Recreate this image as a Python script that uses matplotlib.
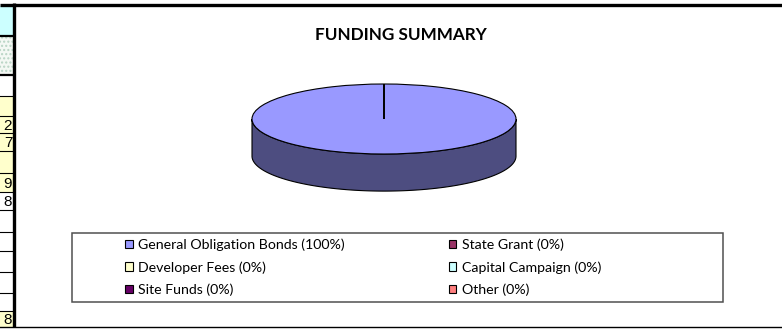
"""
Funding summary: flat 3-D pie with a two-column legend, as pasted from a worksheet.
"""

import matplotlib.pyplot as plt
import numpy as np
from matplotlib.colors import to_rgb
from matplotlib.patches import Patch, Rectangle

# Chart data
sources = [
    "General Obligation Bonds",
    "State Grant",
    "Developer Fees",
    "Capital Campaign",
    "Site Funds",
    "Other",
]
amounts = [100, 0, 0, 0, 0, 0]
colors = ["#9999FF", "#993366", "#FFFFCC", "#CCFFFF", "#660066", "#FF8080"]

# Worksheet cells that peek in at the left edge
cell_texts = ["", "", "", "", "2", "7", "", "9", "8", "", "", "", "", "", "8"]
cell_kinds = ["head", "dots", "white", "yellow", "yellow", "yellow", "yellow",
              "yellow", "white", "white", "white", "white", "white", "white",
              "yellow"]

W, H = 782, 331
FONT = ["Lato", "DejaVu Sans"]


def darker(c, f=0.5):
    r, g, b = to_rgb(c)
    return (r * f, g * f, b * f)


def draw_sheet(ax):
    """Worksheet strip, chart frame lines and legend box, in pixel coords."""
    edges = [6, 36, 75, 96, 116, 133, 151, 173, 192, 210, 232, 251, 272,
             293, 311, 327]
    fills = {"head": "#CCFFFF", "dots": "#F4F8F4", "white": "white",
             "yellow": "#FFFFCC"}
    for i, kind in enumerate(cell_kinds):
        y0, y1 = edges[i], edges[i + 1]
        rect = Rectangle((0, y0), 13, y1 - y0, facecolor=fills[kind],
                         edgecolor="none")
        if kind == "dots":
            rect.set_hatch("....")
            rect.set_edgecolor("#B8D4C4")
            rect.set_linewidth(0)
        ax.add_patch(rect)
        if cell_texts[i]:
            ax.text(12.2, (y0 + y1) / 2 + 1, cell_texts[i], ha="right",
                    va="center", fontsize=11, family="Liberation Sans")
    for i, y in enumerate(edges[1:-1], start=1):
        lw = 1.6 if i in (1, 2) else 0.8
        ax.plot([0, 13], [y, y], color="black", lw=lw)

    # chart area border
    ax.plot([0, W], [4.5, 4.5], color="black", lw=2.4, solid_capstyle="butt")
    ax.plot([13.5, 13.5], [3, 327], color="black", lw=2.4,
            solid_capstyle="butt", zorder=5)
    ax.plot([0, W], [327, 327], color="black", lw=1.0)

    # legend frame
    ax.add_patch(Rectangle((72, 233), 651, 69, facecolor="none",
                           edgecolor="#505050", lw=1.1))


def draw_pie(ax, depth=1.06):
    wedges, _ = ax.pie(
        amounts,
        colors=colors,
        startangle=90,
        counterclock=False,
        wedgeprops={"edgecolor": "black", "linewidth": 0.8},
    )
    for w in wedges:
        w.set_zorder(3)

    # side wall for the part of each slice that faces the viewer
    for w, c in zip(wedges, colors):
        for k in (-2, -1, 0, 1):
            lo = max(w.theta1, 180 + 360 * k)
            hi = min(w.theta2, 360 + 360 * k)
            if hi <= lo:
                continue
            t = np.radians(np.linspace(lo, hi, 200))
            x, y = np.cos(t), np.sin(t)
            ax.fill(
                np.concatenate([x, x[::-1]]),
                np.concatenate([y, y[::-1] - depth]),
                facecolor=darker(c),
                edgecolor="black",
                linewidth=0.8,
                zorder=2,
            )

    ax.set_aspect("auto")
    ax.set_xlim(-1.05, 1.05)
    ax.set_ylim(-2.2, 1.1)
    ax.axis("off")


def main():
    fig = plt.figure(figsize=(W / 100, H / 100), dpi=100)

    deco = fig.add_axes([0, 0, 1, 1], zorder=0)
    deco.set_xlim(0, W)
    deco.set_ylim(H, 0)
    deco.axis("off")
    draw_sheet(deco)

    fig.text(401 / W, 1 - 35 / H, "FUNDING SUMMARY", ha="center",
             va="center", fontsize=12.3, fontweight="bold", family=FONT)

    pie_ax = fig.add_axes([245.4 / W, 135 / H, 277.2 / W, 115.5 / H],
                          zorder=1)
    draw_pie(pie_ax)

    total = sum(amounts)
    labels = [f"{s} ({100 * a / total:.0f}%)" for s, a in zip(sources, amounts)]
    handles = [Patch(facecolor=c, edgecolor="black", linewidth=0.8)
               for c in colors]
    order = [0, 2, 4, 1, 3, 5]  # legend fills column by column
    fig.legend(
        [handles[i] for i in order],
        [labels[i] for i in order],
        ncol=2,
        loc="upper left",
        bbox_to_anchor=(125 / W, 1 - 238.5 / H),
        frameon=False,
        borderpad=0,
        borderaxespad=0,
        handlelength=0.56,
        handleheight=0.56,
        handletextpad=0.39,
        labelspacing=0.7,
        columnspacing=7.3,
        prop={"family": FONT, "size": 10.2},
    )

    fig.savefig("out.png", dpi=100, facecolor="white")


if __name__ == "__main__":
    main()
